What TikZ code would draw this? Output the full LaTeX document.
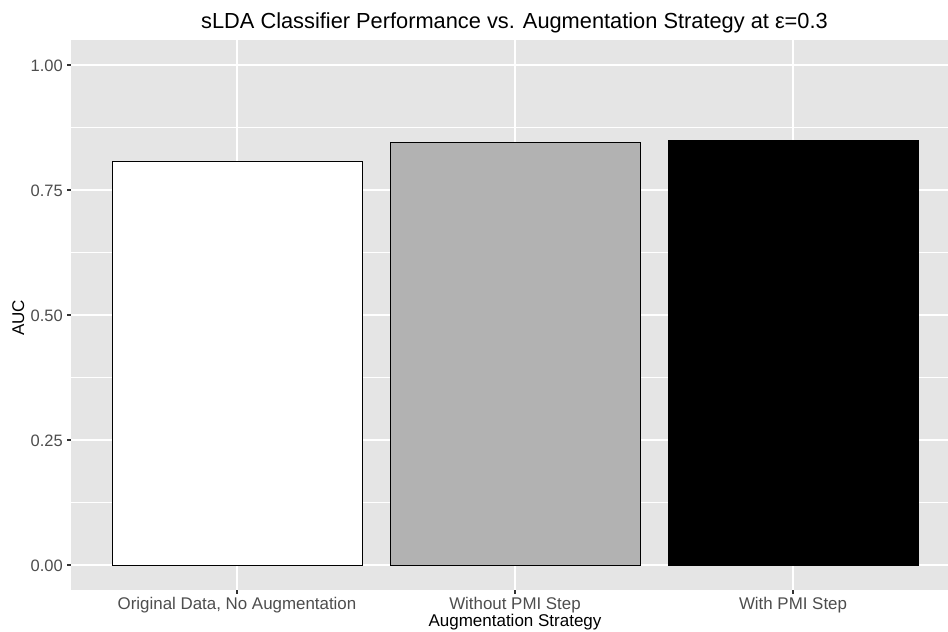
\documentclass[tikz,border=0pt]{standalone}
\usepackage{fontspec}
\setmainfont{Liberation Sans}
\definecolor{panelbg}{HTML}{E5E5E5}
\definecolor{ticktext}{HTML}{4D4D4D}
\definecolor{tickline}{HTML}{333333}
\definecolor{midgrey}{HTML}{B2B2B2}
\begin{document}
\begin{tikzpicture}[x=1pt,y=-1pt,
  majorgrid/.style={draw=white,line width=1.1pt},
  minorgrid/.style={draw=white,line width=0.55pt},
  barbox/.style={draw=black,line width=1.0pt},
  tickmark/.style={draw=tickline,line width=1.1pt},
  ylab/.style={anchor=base east,inner sep=0pt,text=ticktext,font=\fontsize{16.5}{18}\selectfont},
  xlab/.style={anchor=base,inner sep=0pt,text=ticktext,font=\fontsize{16.9}{19}\selectfont},
  axtitle/.style={inner sep=0pt,text=black,font=\fontsize{17}{19}\selectfont}]
\useasboundingbox (0,0) rectangle (948,632);
% panel
\fill[panelbg] (71,40) rectangle (948,590);
% minor grid
\foreach \yy in {502.5,377.5,252.5,127.5}
  \draw[minorgrid] (71,\yy) -- (948,\yy);
% major grid
\foreach \yy in {565,440,315,190,65}
  \draw[majorgrid] (71,\yy) -- (948,\yy);
\foreach \xx in {237,515,793}
  \draw[majorgrid] (\xx,40) -- (\xx,590);
% bars
\draw[barbox,fill=white] (112,565) rectangle (362,161.5);
\draw[barbox,fill=midgrey] (390,565) rectangle (640,142);
\draw[barbox,fill=black] (668,565) rectangle (918,140.5);
% ticks
\foreach \yy in {565,440,315,190,65}
  \draw[tickmark] (67,\yy) -- (71,\yy);
\foreach \xx in {237,515,793}
  \draw[tickmark] (\xx,590) -- (\xx,594);
% y labels
\node[ylab] (y100) at (63,71) {1.00};
\node[ylab] (y075) at (63,196) {0.75};
\node[ylab] (y050) at (63,321) {0.50};
\node[ylab] (y025) at (63,446) {0.25};
\node[ylab] (y000) at (63,571) {0.00};
% x labels
\node[xlab] (x1) at (237,609.3) {Original Data, No Augmentation};
\node[xlab] (x2) at (515,609.3) {Without PMI Step};
\node[xlab] (x3) at (793,609.3) {With PMI Step};
% axis titles
\node[axtitle,anchor=base] (xt) at (515,626.5) {Augmentation Strategy};
\node[axtitle,anchor=base,rotate=90] (yt) at (24,318) {AUC};
% title
\node[anchor=base,inner sep=0pt,font=\fontsize{21.8}{24}\selectfont] (title) at (514.5,28) {sLDA Classifier Performance vs. Augmentation Strategy at ε=0.3};
\end{tikzpicture}
\end{document}
